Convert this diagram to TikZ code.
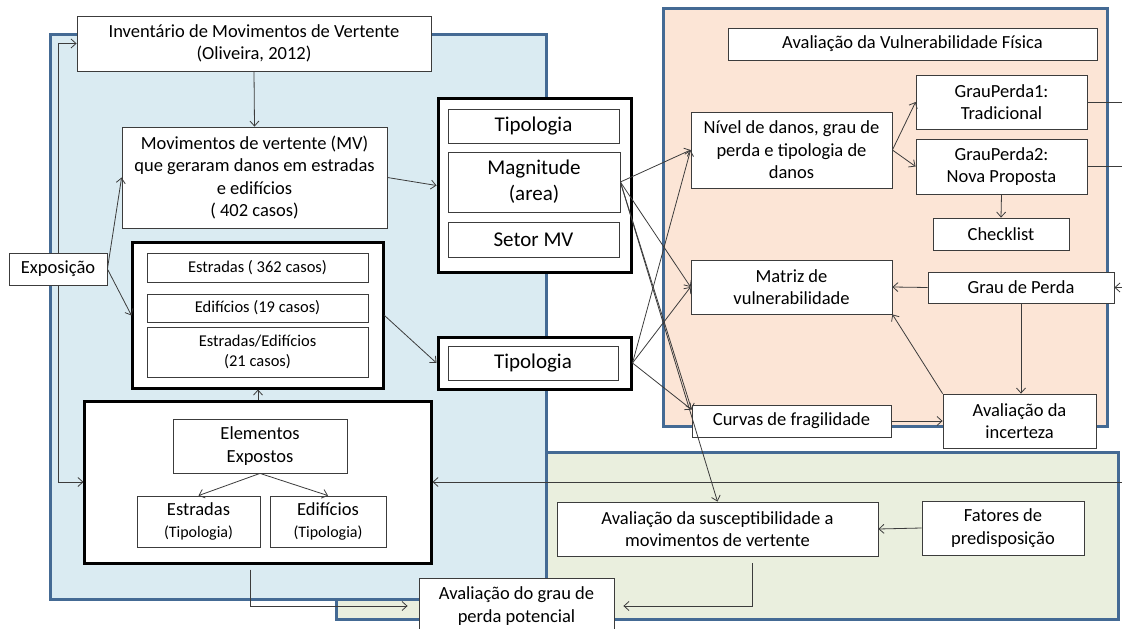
\documentclass[tikz,border=0pt]{standalone}
\usepackage{fontspec}
\setmainfont{Carlito}
\usetikzlibrary{arrows.meta}
\definecolor{painelAzul}{RGB}{218,235,242}
\definecolor{painelLaranja}{RGB}{252,229,214}
\definecolor{painelVerde}{RGB}{234,239,222}
\definecolor{bordaPainel}{RGB}{68,106,148}
\definecolor{traco}{RGB}{60,60,60}

\begin{document}
\begin{tikzpicture}[x=1bp,y=-1bp,
    caixa/.style={draw=traco,line width=0.8bp,fill=white,align=center,inner sep=0pt,
      font=\fontsize{18.5bp}{22.5bp}\selectfont},
    caixaP/.style={caixa,font=\fontsize{16.5bp}{20bp}\selectfont},
    caixaG/.style={caixa,font=\fontsize{21bp}{26bp}\selectfont},
    grupo/.style={draw=black,line width=3bp,fill=white,inner sep=0pt},
    tam/.style 2 args={minimum width=#1bp,minimum height=#2bp},
    painel/.style={draw=bordaPainel,line width=3bp},
    seta/.style={-{Straight Barb[length=5bp,width=9bp]},draw=traco,line width=0.8bp},
    linha/.style={draw=traco,line width=0.8bp}]
    \useasboundingbox (0,0) rectangle (1122,629);
    % paineis de fundo
    \draw[painel,fill=painelVerde] (336,452) rectangle (1118,619);
    \draw[painel,fill=painelAzul] (50,35) rectangle (546,599);
    \draw[painel,fill=painelLaranja] (663,9) rectangle (1107,426);

    % exposicao
    \node[caixa,tam={354}{55}] (inv) at (254,43.5) {Inventário de Movimentos de Vertente\\(Oliveira, 2012)};
    \node[caixa,tam={265}{101}] (mov) at (254.5,177.5) {Movimentos de vertente (MV)\\que geraram danos em estradas\\e edifícios\\( 402 casos)};
    \node[caixa,tam={98}{32}] (expo) at (58,269) {Exposição};
    \node[grupo,tam={250}{145}] (casos) at (258,315.5) {};
    \node[caixaP,tam={221}{29}] (estr) at (257.5,267.5) {Estradas ( 362 casos)};
    \node[caixaP,tam={221}{28}] (edif) at (257.5,308) {Edifícios (19 casos)};
    \node[caixaP,tam={221}{50}] (estrEdif) at (257.5,352) {Estradas/Edifícios\\(21 casos)};
    \node[grupo,tam={346}{162}] (elem) at (258,482) {};
    \node[caixa,tam={174}{54}] (elemExp) at (260,446) {Elementos\\Expostos};
    \node[caixa,tam={123}{51}] (estrTip) at (198.5,521.5) {Estradas\\{\fontsize{16bp}{19bp}\selectfont(Tipologia)}};
    \node[caixa,tam={116}{51}] (edifTip) at (328,521.5) {Edifícios\\{\fontsize{16bp}{19bp}\selectfont(Tipologia)}};
    \node[caixa,tam={195}{56}] (grauPot) at (516.5,606) {Avaliação do grau de\\perda potencial};

    % coluna do meio
    \node[grupo,tam={193}{173}] (mvGrupo) at (534.5,185.5) {};
    \node[caixaG,tam={171}{34}] (tip1) at (533.5,126) {Tipologia};
    \node[caixaG,tam={172}{60}] (mag) at (534,182) {Magnitude\\(area)};
    \node[caixaG,tam={171}{35}] (setor) at (533.5,239.5) {Setor MV};
    \node[grupo,tam={193}{52}] (tipGrupo) at (534.5,363) {};
    \node[caixaG,tam={170}{34}] (tip2) at (533,363) {Tipologia};

    % vulnerabilidade fisica
    \node[caixa,tam={369}{32}] (avf) at (912.5,44) {Avaliação da Vulnerabilidade Física};
    \node[caixa,tam={201}{76}] (nivel) at (791.5,150) {Nível de danos, grau de\\perda e tipologia de\\danos};
    \node[caixa,tam={171}{54}] (gp1) at (1001.5,102) {GrauPerda1:\\Tradicional};
    \node[caixa,tam={171}{55}] (gp2) at (1001.5,166.5) {GrauPerda2:\\Nova Proposta};
    \node[caixa,tam={136}{32}] (check) at (1001,234) {Checklist};
    \node[caixa,tam={201}{54}] (matriz) at (791.5,287) {Matriz de\\vulnerabilidade};
    \node[caixa,tam={186}{31}] (grau) at (1021,287.5) {Grau de Perda};
    \node[caixa,tam={199}{32}] (curvas) at (791.5,421) {Curvas de fragilidade};
    \node[caixa,tam={153}{54}] (incert) at (1019.5,421) {Avaliação da\\incerteza};

    % susceptibilidade
    \node[caixa,tam={321}{54}] (susc) at (717.5,529) {Avaliação da susceptibilidade a\\movimentos de vertente};
    \node[caixa,tam={162}{54}] (fator) at (1003,528) {Fatores de\\predisposição};

    \coordinate (curvasTopo) at ([yshift=-5bp]curvas.north west);
    \coordinate (saida1) at (1122,102);
    \coordinate (saida2) at (1122,166.5);
    \coordinate (saida3) at (1122,287.5);
    \coordinate (saida4) at (1122,482);

    \draw[seta] (inv.south) -- (mov.north);
    \draw[seta] (expo.east) -- (mov.west);
    \draw[seta] (expo.east) -- (casos.west);
    \draw[seta] (expo.north) |- (inv.west);
    \draw[seta] (expo.south) |- (elem.west);
    \draw[seta] (mov.east) -- (mvGrupo.west);
    \draw[seta] (casos.east) -- (tipGrupo.west);
    \draw[seta] (elem.north) -- (casos.south);
    \draw[seta] (elemExp.south) -- (estrTip.north);
    \draw[seta] (elemExp.south) -- (edifTip.north);
    \draw[seta,shorten >=11bp] ([xshift=-8bp,yshift=-5bp]elem.south) |- (grauPot.west);
    \draw[seta,shorten >=9bp] ([xshift=34.5bp,yshift=-7bp]susc.south) |- (grauPot.east);
    \draw[seta] (fator.west) -- (susc.east);
    \foreach \alvo in {nivel.west,matriz.west,curvasTopo,susc.north}
      \draw[seta] (mag.east) -- (\alvo);
    \foreach \alvo in {nivel.west,matriz.west,curvasTopo}
      \draw[seta] (tipGrupo.east) -- (\alvo);
    \draw[seta] (nivel.east) -- (gp1.west);
    \draw[seta] (nivel.east) -- (gp2.west);
    \draw[seta] (gp2.south) -- (check.north);
    \draw[seta] (grau.west) -- (matriz.east);
    \draw[seta] (grau.south) -- (grau.south |- incert.north);
    \draw[seta] (incert.north west) -- (matriz.south east);
    \draw[seta] (curvas.east) -- (incert.west);
    \draw[linha] (gp1.east) -- (saida1);
    \draw[linha] (gp2.east) -- (saida2);
    \draw[seta] (saida3) -- (grau.east);
    \draw[seta] (saida4) -- (elem.east);
\end{tikzpicture}
\end{document}
